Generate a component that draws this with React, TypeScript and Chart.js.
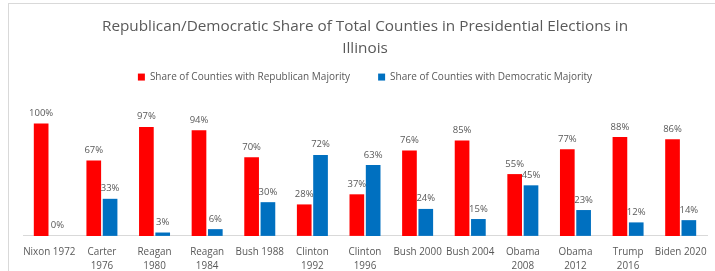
import React, { useEffect, useRef } from "react";
import { Chart, registerables } from "chart.js";

Chart.register(...registerables);

const categories: (string | string[])[] = [
  "Nixon 1972",
  ["Carter", "1976"],
  ["Reagan", "1980"],
  ["Reagan", "1984"],
  "Bush 1988",
  ["Clinton", "1992"],
  ["Clinton", "1996"],
  "Bush 2000",
  "Bush 2004",
  ["Obama", "2008"],
  ["Obama", "2012"],
  ["Trump", "2016"],
  "Biden 2020",
];

const republicanShare = [100, 67, 97, 94, 70, 28, 37, 76, 85, 55, 77, 88, 86];
const democraticShare = [0, 33, 3, 6, 30, 72, 63, 24, 15, 45, 23, 12, 14];

const titleLines = [
  "Republican/Democratic Share of Total Counties in Presidential Elections in",
  "Illinois",
];
const seriesNames = [
  "Share of Counties with Republican Majority",
  "Share of Counties with Democratic Majority",
];

const FONT = "'Open Sans', sans-serif";
const GRAY = "#595959";

const dataLabelPlugin = {
  id: "dataLabels",
  afterDatasetsDraw(chart: any) {
    const ctx = chart.ctx;
    ctx.save();
    ctx.font = `9.5px ${FONT}`;
    ctx.fillStyle = GRAY;
    ctx.textAlign = "center";
    ctx.textBaseline = "alphabetic";
    chart.data.datasets.forEach((ds: any, i: number) => {
      const meta = chart.getDatasetMeta(i);
      meta.data.forEach((bar: any, j: number) => {
        ctx.fillText(ds.data[j] + "%", bar.x, bar.y - 7.5);
      });
    });
    ctx.restore();
  },
};

export default function App() {
  const ref = useRef<HTMLCanvasElement>(null);

  useEffect(() => {
    if (!ref.current) return;
    const chart = new Chart(ref.current, {
      type: "bar",
      data: {
        labels: categories,
        datasets: [
          {
            label: seriesNames[0],
            data: republicanShare,
            backgroundColor: "#FF0000",
            categoryPercentage: 0.62,
            barPercentage: 0.9,
          },
          {
            label: seriesNames[1],
            data: democraticShare,
            backgroundColor: "#0070C0",
            categoryPercentage: 0.62,
            barPercentage: 0.9,
          },
        ],
      },
      options: {
        animation: false,
        responsive: false,
        maintainAspectRatio: false,
        devicePixelRatio: 1,
        layout: { padding: { left: 15, right: 15, top: 0, bottom: 2 } },
        plugins: {
          title: {
            display: true,
            text: titleLines,
            color: GRAY,
            font: { family: FONT, size: 15.3, weight: "normal", lineHeight: 1.44 },
            padding: { top: 13, bottom: -16 },
          },
          legend: {
            display: true,
            position: "top",
            labels: {
              color: GRAY,
              font: { family: FONT, size: 10 },
              boxWidth: 7,
              boxHeight: 7,
              padding: 28,
            },
          },
          tooltip: { enabled: false },
        },
        scales: {
          x: {
            grid: { display: false, drawTicks: false },
            border: { display: true, color: "#D9D9D9", width: 1 },
            ticks: {
              color: GRAY,
              font: { family: FONT, size: 9.9, lineHeight: 1.42 },
              padding: 9,
              maxRotation: 0,
              autoSkip: false,
            },
          },
          y: {
            display: false,
            min: 0,
            max: 128,
          },
        },
      },
      plugins: [dataLabelPlugin],
    });
    return () => chart.destroy();
  }, []);

  return (
    <div
      style={{
        position: "fixed",
        left: 0,
        top: 0,
        width: 715,
        height: 271,
        overflow: "hidden",
        background: "#fff",
      }}
    >
      <div
        style={{
          position: "absolute",
          left: 8,
          top: 3,
          width: 716,
          height: 300,
          border: "1px solid #D9D9D9",
          boxSizing: "border-box",
        }}
      />
      <canvas
        ref={ref}
        width={714}
        height={281}
        style={{ position: "absolute", left: 8, top: 3, width: 714, height: 281 }}
      />
    </div>
  );
}
